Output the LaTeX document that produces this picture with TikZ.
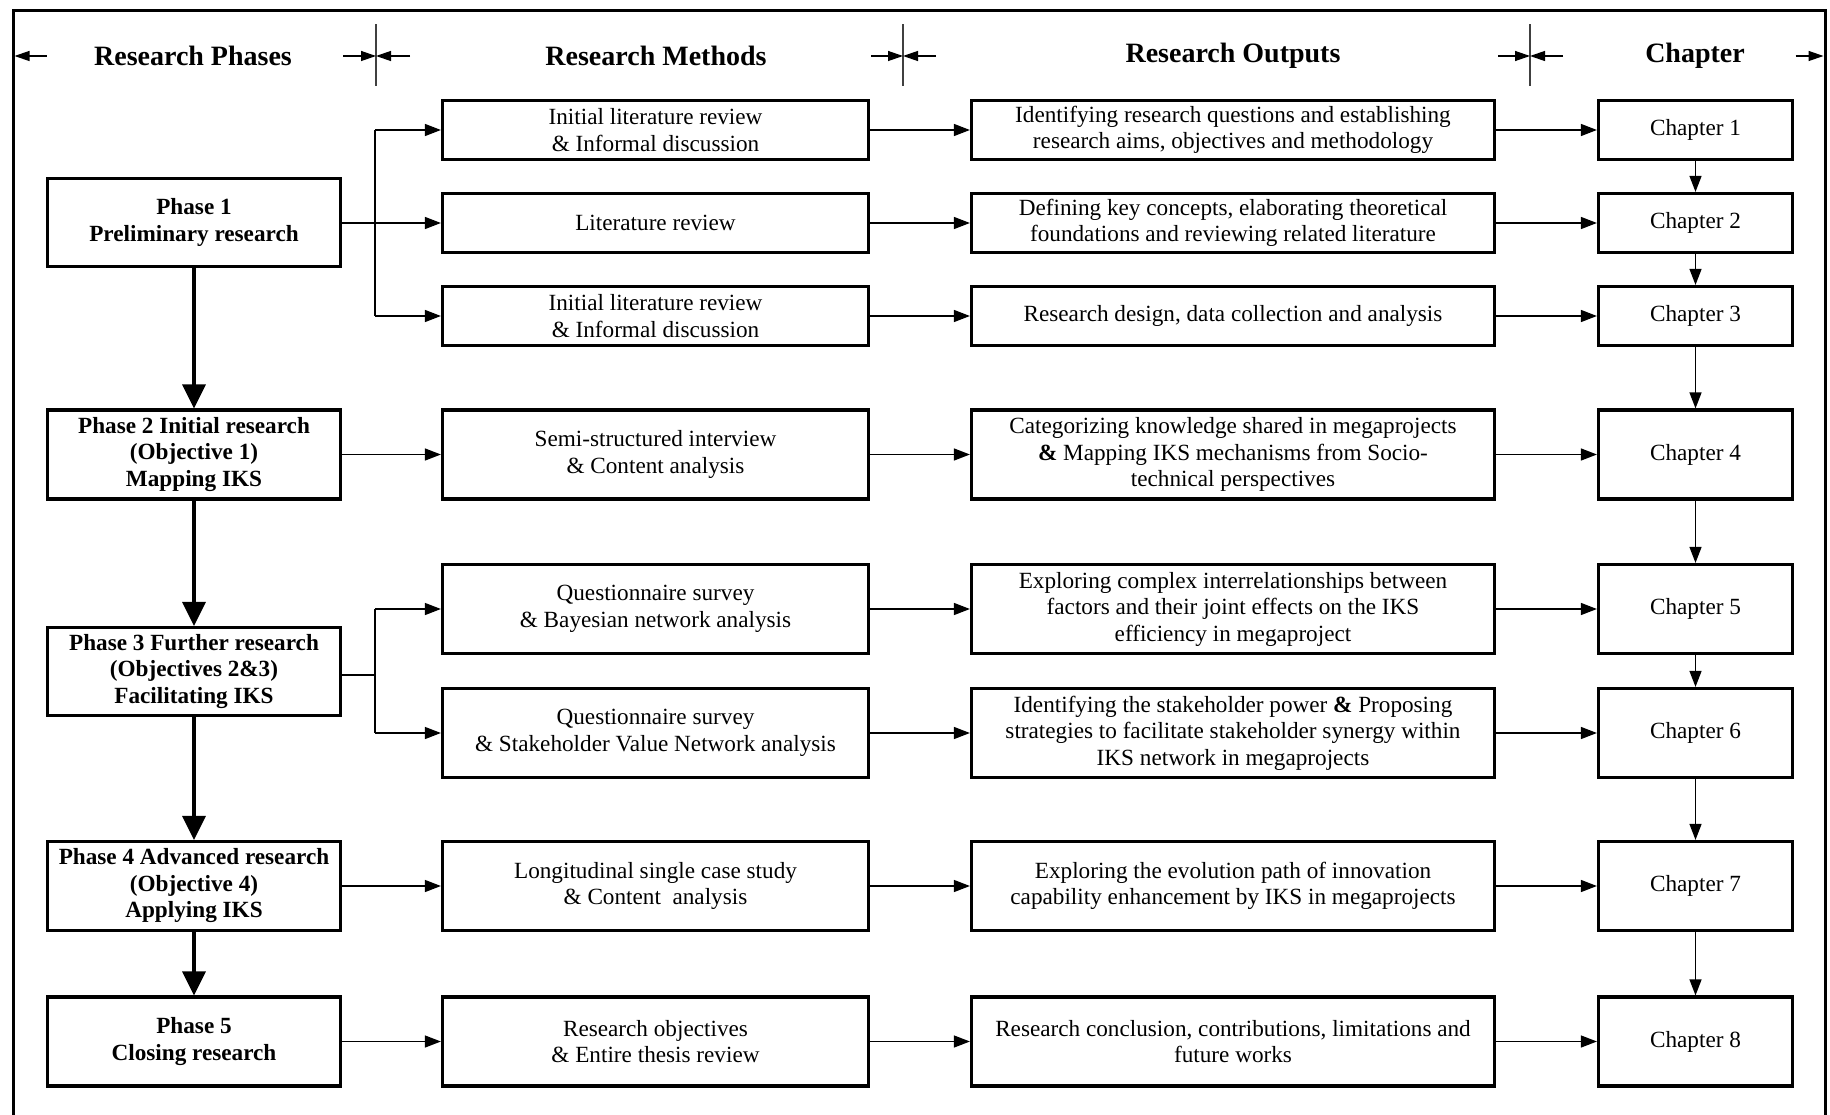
\documentclass[tikz,border=0pt]{standalone}
\usepackage{fontspec}
\setmainfont{Liberation Serif}
\usetikzlibrary{arrows.meta}
\newcommand{\bodyfont}{\fontsize{23.2}{26.5}\selectfont}
\newcommand{\headfont}{\fontsize{28}{32}\selectfont\bfseries}

\begin{document}
\begin{tikzpicture}[x=1pt,y=-1pt,
  box/.style={draw, line width=3.2pt, inner sep=0pt, align=center, font=\bodyfont},
  phasebox/.style={box, font=\bodyfont\bfseries, minimum width=293pt},
  methbox/.style={box, minimum width=426pt},
  outbox/.style={box, minimum width=523pt},
  chapbox/.style={box, minimum width=194pt},
  short/.style={minimum height=59pt},
  tall/.style={minimum height=89pt},
  link/.style={line width=1.3pt, -{Triangle[length=16pt,width=12pt]}},
  flow/.style={line width=3.4pt, -{Triangle[length=24pt,width=23pt]}},
  span/.style={line width=1.3pt, -{Triangle[length=15pt,width=10pt]}},
  divider/.style={line width=1.2pt, draw=black!75},
  head/.style={font=\headfont, inner sep=0pt}
]
\useasboundingbox (0,0) rectangle (1830,1115);

% outer frame (open at the bottom)
\draw[line width=3pt] (13,1115) -- (13,11) -- (1825,11) -- (1825,1115);

% column headings
\node[head] (hphase) at (193,56) {Research Phases};
\node[head] (hmeth)  at (656,56) {Research Methods};
\node[head] (hout)   at (1233,56) {Research Outputs};
\node[head] (hchap)  at (1695,56) {Chapter};

% column dividers
\coordinate (d1) at (376,56);
\coordinate (d2) at (903,56);
\coordinate (d3) at (1530,56);
\coordinate (fl) at (14.5,56);
\coordinate (fr) at (1823.5,56);
\foreach \d in {d1,d2,d3}
  \draw[divider] ([yshift=-30pt]\d) -- ([yshift=32pt]\d);

% span arrows of the headings
\draw[span] ([xshift=32pt]fl) -- (fl);
\draw[span] ([xshift=-33pt]d1) -- (d1);
\draw[span] ([xshift=34pt]d1) -- (d1);
\draw[span] ([xshift=-32pt]d2) -- (d2);
\draw[span] ([xshift=33pt]d2) -- (d2);
\draw[span] ([xshift=-32pt]d3) -- (d3);
\draw[span] ([xshift=33pt]d3) -- (d3);
\draw[span] ([xshift=-28pt]fr) -- (fr);

% research phases
\node[phasebox, minimum height=88pt] (p1) at (194,222.5) {Phase 1\\Preliminary research};
\node[phasebox, tall] (p2) at (194,454.5) {Phase 2 Initial research\\(Objective 1)\\Mapping IKS};
\node[phasebox, minimum height=88pt] (p3) at (194,671.5) {Phase 3 Further research\\(Objectives 2\&3)\\Facilitating IKS};
\node[phasebox, tall] (p4) at (194,886) {Phase 4 Advanced research\\(Objective 4)\\Applying IKS};
\node[phasebox, tall] (p5) at (194,1041.5) {Phase 5\\Closing research};

% research methods
\node[methbox, short] (m1) at (655.5,130) {Initial literature review\\\& Informal discussion};
\node[methbox, short] (m2) at (655.5,223) {Literature review};
\node[methbox, short] (m3) at (655.5,316) {Initial literature review\\\& Informal discussion};
\node[methbox, tall] (m4) at (655.5,454.5) {Semi-structured interview\\\& Content analysis};
\node[methbox, tall] (m5) at (655.5,609) {Questionnaire survey\\\& Bayesian network analysis};
\node[methbox, tall] (m6) at (655.5,733) {Questionnaire survey\\\& Stakeholder Value Network analysis};
\node[methbox, tall] (m7) at (655.5,886) {Longitudinal single case study\\\& Content\ \ analysis};
\node[methbox, tall] (m8) at (655.5,1041.5) {Research objectives\\\& Entire thesis review};

% research outputs
\node[outbox, short] (o1) at (1233,130) {Identifying research questions and establishing\\research aims, objectives and methodology};
\node[outbox, short] (o2) at (1233,223) {Defining key concepts, elaborating theoretical\\foundations and reviewing related literature};
\node[outbox, short] (o3) at (1233,316) {Research design, data collection and analysis};
\node[outbox, tall] (o4) at (1233,454.5) {Categorizing knowledge shared in megaprojects\\\textbf{\&} Mapping IKS mechanisms from Socio-\\technical perspectives};
\node[outbox, tall] (o5) at (1233,609) {Exploring complex interrelationships between\\factors and their joint effects on the IKS\\efficiency in megaproject};
\node[outbox, tall] (o6) at (1233,733) {Identifying the stakeholder power \textbf{\&} Proposing\\strategies to facilitate stakeholder synergy within\\IKS network in megaprojects};
\node[outbox, tall] (o7) at (1233,886) {Exploring the evolution path of innovation\\capability enhancement by IKS in megaprojects};
\node[outbox, tall] (o8) at (1233,1041.5) {Research conclusion, contributions, limitations and\\future works};

% chapters
\node[chapbox, short] (c1) at (1695.5,130) {Chapter 1};
\node[chapbox, short] (c2) at (1695.5,223) {Chapter 2};
\node[chapbox, short] (c3) at (1695.5,316) {Chapter 3};
\node[chapbox, tall] (c4) at (1695.5,454.5) {Chapter 4};
\node[chapbox, tall] (c5) at (1695.5,609) {Chapter 5};
\node[chapbox, tall] (c6) at (1695.5,733) {Chapter 6};
\node[chapbox, tall] (c7) at (1695.5,886) {Chapter 7};
\node[chapbox, tall] (c8) at (1695.5,1041.5) {Chapter 8};

% phase sequence
\draw[flow] (p1.south) -- (p2.north);
\draw[flow] (p2.south) -- (p3.north);
\draw[flow] (p3.south) -- (p4.north);
\draw[flow] (p4.south) -- (p5.north);

% phase 1 branches
\coordinate (b1) at (375,223);
\draw[link] (p1.east |- m2.west) -- (m2.west);
\draw[line width=1.3pt] (b1 |- m1.west) -- (b1 |- m3.west);
\draw[link] (b1 |- m1.west) -- (m1.west);
\draw[link] (b1 |- m3.west) -- (m3.west);

% phase 3 branches
\coordinate (b3) at (375,675);
\draw[line width=1.3pt] (p3.east |- b3) -- (b3);
\draw[line width=1.3pt] (b3 |- m5.west) -- (b3 |- m6.west);
\draw[link] (b3 |- m5.west) -- (m5.west);
\draw[link] (b3 |- m6.west) -- (m6.west);

% single phase links
\draw[link] (p2.east) -- (m4.west);
\draw[link] (p4.east) -- (m7.west);
\draw[link] (p5.east) -- (m8.west);

% methods to outputs to chapters
\foreach \i in {1,...,8} {
  \draw[link] (m\i.east) -- (o\i.west);
  \draw[link] (o\i.east) -- (c\i.west);
}

% chapter sequence
\foreach \i/\j in {1/2,2/3,3/4,4/5,5/6,6/7,7/8}
  \draw[link] (c\i.south) -- (c\j.north);

\end{tikzpicture}
\end{document}
